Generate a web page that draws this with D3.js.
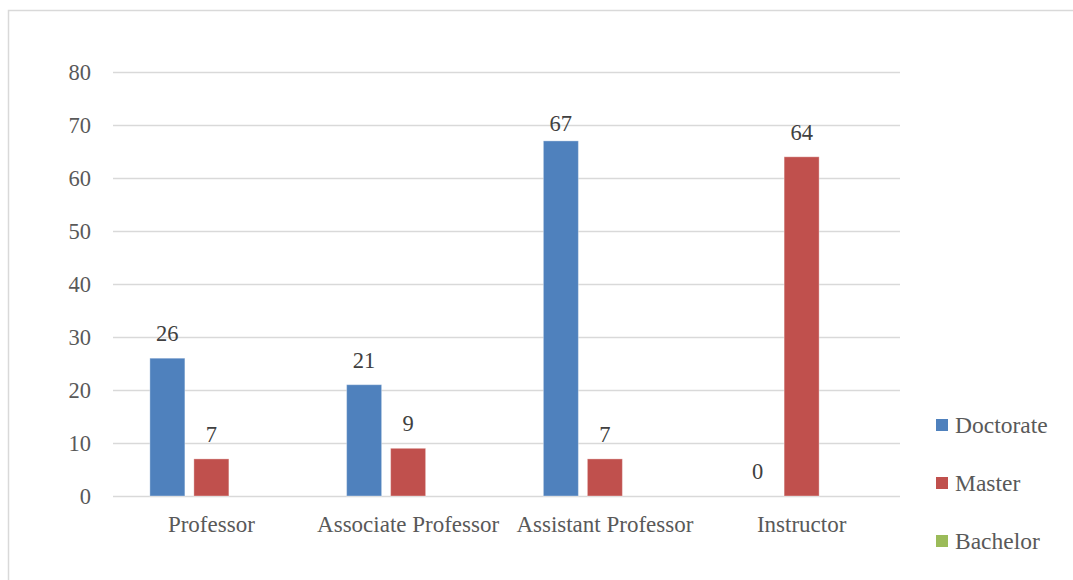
<!DOCTYPE html>
<html>
<head>
<meta charset="utf-8">
<script src="https://cdn.jsdelivr.net/npm/d3@7"></script>
<style>
  html, body { margin: 0; padding: 0; background: #fff; }
  svg { display: block; }
</style>
</head>
<body>
<svg id="chart" width="1073" height="580"></svg>
<script>
// Academic rank by highest degree held
const categories = ["Professor", "Associate Professor", "Assistant Professor", "Instructor"];
const seriesNames = ["Doctorate", "Master", "Bachelor"];
const doctorate = [26, 21, 67, 0];
const master = [7, 9, 7, 64];
const bachelor = [null, null, null, null];
const yTicks = [0, 10, 20, 30, 40, 50, 60, 70, 80];
const colors = ["#4F81BD", "#C0504D", "#9BBB59"];

const seriesValues = [doctorate, master, bachelor];
const textFont = '"Liberation Serif", "Times New Roman"';

const svg = d3.select("#chart");

// outer chart frame
svg.append("rect")
  .attr("x", 8.5).attr("y", 10.5)
  .attr("width", 1080).attr("height", 600)
  .attr("fill", "#fff").attr("stroke", "#D9D9D9").attr("stroke-width", 1.5);

const plot = { left: 113, right: 900, top: 72, bottom: 496 };
const labelTop = 123.5; // data labels are kept below this line

const x0 = d3.scaleBand().domain(categories).range([plot.left, plot.right]).padding(0);
const x1 = d3.scaleBand().domain(seriesNames).range([0, x0.bandwidth()])
  .paddingInner(0.2045).paddingOuter(0.838);
const y = d3.scaleLinear().domain([0, 80]).range([plot.bottom, plot.top]);

// gridlines and value axis
const yAxis = d3.axisLeft(y).tickValues(yTicks).tickSize(-(plot.right - plot.left)).tickPadding(22);
const gy = svg.append("g").attr("transform", `translate(${plot.left},0)`).call(yAxis)
  .attr("font-family", null).attr("font-size", null);
gy.select(".domain").remove();
gy.selectAll(".tick line").attr("stroke", "#D9D9D9").attr("stroke-width", 1.5);
gy.selectAll(".tick text")
  .attr("fill", "#595959")
  .style("font-family", textFont).style("font-size", "22.5px")
  .attr("dy", "0.33em");

// bars
const groups = svg.append("g").selectAll("g")
  .data(categories)
  .join("g")
  .attr("transform", d => `translate(${x0(d)},0)`);

seriesNames.forEach((s, si) => {
  groups.append("rect")
    .attr("x", x1(s))
    .attr("width", x1.bandwidth())
    .attr("y", (d, i) => y(seriesValues[si][i] || 0))
    .attr("height", (d, i) => y(0) - y(seriesValues[si][i] || 0))
    .attr("fill", colors[si])
    .attr("stroke", "rgba(255,255,255,0.35)")
    .attr("stroke-width", 1);

  groups.filter((d, i) => seriesValues[si][i] !== null)
    .append("text")
    .attr("x", x1(s) + x1.bandwidth() / 2)
    .attr("y", d => Math.max(labelTop, y(seriesValues[si][categories.indexOf(d)]) - 24.5))
    .attr("dy", "0.33em")
    .attr("text-anchor", "middle")
    .attr("fill", "#404040")
    .style("font-family", textFont).style("font-size", "22.5px")
    .text(d => seriesValues[si][categories.indexOf(d)]);
});

// category axis labels
svg.append("g").selectAll("text")
  .data(categories)
  .join("text")
  .attr("x", d => x0(d) + x0.bandwidth() / 2)
  .attr("y", 524)
  .attr("dy", "0.33em")
  .attr("text-anchor", "middle")
  .attr("fill", "#595959")
  .style("font-family", textFont).style("font-size", "23px")
  .text(d => d);

// legend
const legend = svg.append("g").attr("transform", "translate(936,425)");
const li = legend.selectAll("g").data(seriesNames).join("g")
  .attr("transform", (d, i) => `translate(0,${i * 58})`);
li.append("rect").attr("x", 0).attr("y", -6).attr("width", 12).attr("height", 12)
  .attr("fill", (d, i) => colors[i]);
li.append("text").attr("x", 19).attr("y", 0).attr("dy", "0.33em")
  .attr("fill", "#595959")
  .style("font-family", textFont).style("font-size", "23.5px")
  .text(d => d);
</script>
</body>
</html>
